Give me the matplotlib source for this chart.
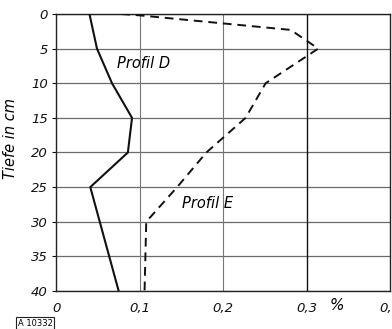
import matplotlib
matplotlib.use("Agg")
import matplotlib.pyplot as plt

# Data
depth_d = [0, 5, 10, 15, 20, 25, 40]
profil_d = [0.040, 0.049, 0.067, 0.091, 0.086, 0.041, 0.075]

depth_e = [0, 0.2, 2.3, 5, 10, 15, 20, 25, 30, 40]
profil_e = [0.078, 0.100, 0.281, 0.314, 0.251, 0.227, 0.180, 0.145, 0.108, 0.106]

xticks = [0, 0.1, 0.2, 0.3, 0.4]
xticklabels = ["0", "0,1", "0,2", "0,3", "0,4"]
yticks = [0, 5, 10, 15, 20, 25, 30, 35, 40]

FONT = ["Liberation Sans Narrow", "DejaVu Sans"]

fig = plt.figure(figsize=(3.92, 3.29), dpi=100)
ax = fig.add_axes([0.143, 0.1155, 0.852, 0.842])

ax.set_xlim(0, 0.4)
ax.set_ylim(40, 0)

for y in yticks:
    ax.axhline(y, color="#6a6a6a", lw=0.9, zorder=1)
for x in [0.1, 0.2]:
    ax.axvline(x, color="#777777", lw=0.8, zorder=1)
ax.axvline(0.3, color="#111111", lw=1.0, zorder=1)

ax.plot(profil_d, depth_d, color="#111111", lw=1.5, zorder=3)
ax.plot(profil_e, depth_e, color="#111111", lw=1.4, ls=(0, (4.5, 3)), zorder=3)

ax.set_xticks(xticks)
ax.set_xticklabels(xticklabels, fontsize=9.5, style="italic", family=FONT)
ax.set_yticks(yticks)
ax.set_yticklabels([str(v) for v in yticks], fontsize=9.5, style="italic", family=FONT)
ax.tick_params(axis="y", length=3, width=0.8, colors="#111111", pad=3)
ax.tick_params(axis="x", length=0, pad=8, colors="#111111")

for s in ax.spines.values():
    s.set_color("#222222")
    s.set_linewidth(1.0)

ax.set_ylabel("Tiefe in cm", fontsize=10.5, style="italic", family=FONT)
ax.yaxis.set_label_coords(-0.115, 0.55)

ax.text(0.105, 7.2, "Profil D", fontsize=10.5, style="italic", family=FONT,
        ha="center", va="center")
ax.text(0.181, 27.3, "Profil E", fontsize=10.5, style="italic", family=FONT,
        ha="center", va="center")

fig.text(337 / 392, 1 - 305 / 329, "%", fontsize=11, style="italic", family=FONT,
         ha="center", va="center")
fig.text(35 / 392, 1 - 323 / 329, "A 10332", fontsize=6, family=FONT,
         ha="center", va="center",
         bbox=dict(boxstyle="square,pad=0.15", fc="white", ec="#222222", lw=0.8))

fig.savefig("out.png", dpi=100)
